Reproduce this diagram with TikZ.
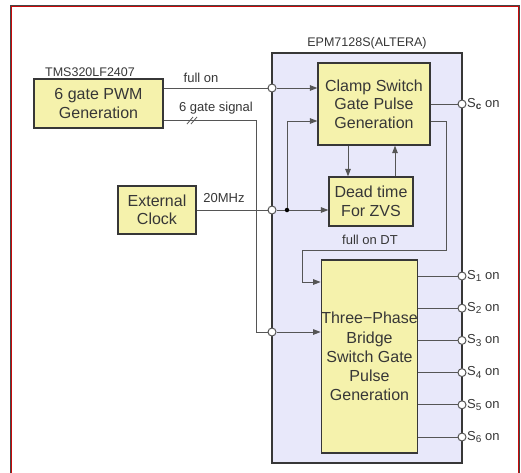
\documentclass[tikz,border=0pt]{standalone}
\usepackage{fontspec}
\setmainfont{Liberation Sans}
\usetikzlibrary{arrows.meta,calc}
\definecolor{boxfill}{RGB}{245,242,172}
\definecolor{chipfill}{RGB}{232,232,250}
\definecolor{wire}{RGB}{85,85,85}
\definecolor{ink}{RGB}{55,55,55}
\definecolor{framered}{RGB}{200,10,10}
\definecolor{framegray}{RGB}{70,70,70}
\newcommand\subidx[1]{\raisebox{-2.5pt}{\fontsize{10}{10}\selectfont #1}}
\tikzset{
  block/.style={draw=ink, line width=1.2pt, fill=boxfill, inner sep=0pt,
    align=center, text=ink, font=\fontsize{16}{18.5}\selectfont},
  pin/.style={circle, draw=wire, line width=1pt, fill=white, inner sep=0pt, minimum size=8pt},
  dot/.style={circle, fill=black, inner sep=0pt, minimum size=4.5pt},
  wirestyle/.style={draw=wire, line width=1pt},
  arr/.style={wirestyle, -{Triangle[length=7.5pt,width=5.5pt]}},
  lbl/.style={text=ink, font=\fontsize{13}{14}\selectfont, inner sep=0pt},
  outlbl/.style={text=ink, font=\fontsize{13}{14}\selectfont, inner sep=0pt, anchor=west}
}
\begin{document}
\begin{tikzpicture}[x=1pt,y=-1pt]
\useasboundingbox (0,0) rectangle (521,472);
\fill[white] (0,0) rectangle (521,472);
% outer frame
\begin{scope}
\clip (0,0) rectangle (521,472);
\draw[framegray, line width=1pt] (10.5,5) rectangle (519.5,490);
\draw[framered, line width=1.2pt] (11.8,6.5) rectangle (518.2,490);
\end{scope}

% programmable logic device
\draw[ink, line width=1.2pt, fill=chipfill] (272,53) rectangle (462,463);
\node[lbl, font=\fontsize{12.5}{14}\selectfont] at (367,43) {EPM7128S(ALTERA)};

% blocks
\node[block, minimum width=129pt, minimum height=49pt] (pwm) at (98.5,103.5) {6 gate PWM\\Generation};
\node[lbl, font=\fontsize{12.5}{14}\selectfont] at (90,72) {TMS320LF2407};
\node[block, minimum width=78pt, minimum height=48pt] (clk) at (157,210) {External\\Clock};
\node[block, minimum width=112pt, minimum height=82pt] (clamp) at (374,104) {Clamp Switch\\Gate Pulse\\Generation};
\node[block, minimum width=84pt, minimum height=49pt] (dead) at (371,201.5) {Dead time\\For ZVS};
\node[block, minimum width=93pt, minimum height=193pt, font=\fontsize{16}{19.2}\selectfont] (tp) at (369.5,356.5) {Three−Phase\\Bridge\\Switch Gate\\Pulse\\Generation};

% input pins on the device edge
\node[pin] (p1) at (272,88) {};
\node[pin] (p2) at (272,210) {};
\node[pin] (p3) at (272,332) {};
\node[dot] (j) at (287,210) {};
\coordinate (b1) at (256,120);
\coordinate (r1) at (446,250);
\coordinate (r2) at (302,250);

% output pins
\node[pin] (oc) at (462,104) {};
\node[pin] (o1) at (462,276) {};
\node[pin] (o2) at (462,308.2) {};
\node[pin] (o3) at (462,340.4) {};
\node[pin] (o4) at (462,372.6) {};
\node[pin] (o5) at (462,404.8) {};
\node[pin] (o6) at (462,437) {};

% full on
\draw[wirestyle] (pwm.east |- p1) -- (p1);
\draw[arr] (p1) -- (clamp.west |- p1);
\node[lbl] at (201,78) {full on};

% 6 gate signal bus
\draw[wirestyle] (pwm.east |- b1) -- (b1) -- (b1 |- p3) -- (p3);
\draw[arr] (p3) -- (tp.west |- p3);
\draw[wirestyle, line width=0.8pt] (187,124) -- (193,117) (191,124) -- (197,117);
\node[lbl] at (216,108) {6 gate signal};

% clock
\draw[wirestyle] (clk.east) -- (p2);
\draw[wirestyle] (p2) -- (j);
\draw[arr] (j) -- (dead.west |- j);
\draw[arr] (j) |- ([yshift=-17pt]clamp.west);
\node[lbl] at (224,198) {20MHz};

% clamp <-> dead time
\draw[arr] ([xshift=-26pt]clamp.south) -- ([xshift=-26pt]clamp.south |- dead.north);
\draw[arr] ([xshift=21pt]clamp.south |- dead.north) -- ([xshift=21pt]clamp.south);

% full on DT feedback
\draw[arr] ([yshift=-17pt]clamp.east) -| (r1) -- (r2) |- ([yshift=74.5pt]tp.west);
\node[lbl] at (370,240) {full on DT};

% outputs
\draw[wirestyle] (clamp.east) -- (oc);
\foreach \k in {1,...,6} {
  \draw[wirestyle] (tp.east |- o\k) -- (o\k);
  \node[outlbl] at ([xshift=5pt]o\k.center) {S\subidx{\k} on};
}
\node[outlbl] at ([xshift=5pt]oc.center) {S\subidx{\textbf{c}} on};
\end{tikzpicture}
\end{document}
